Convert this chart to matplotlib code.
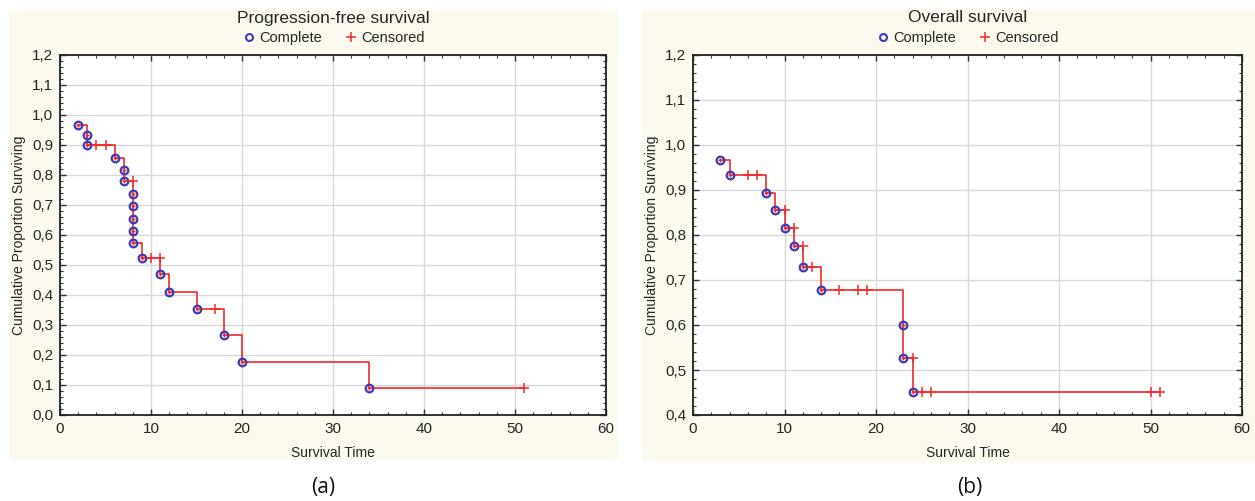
# Kaplan-Meier curves, progression-free and overall survival
import matplotlib
matplotlib.use("Agg")
import matplotlib.pyplot as plt
from matplotlib.patches import Rectangle
from matplotlib.lines import Line2D
from matplotlib.ticker import MultipleLocator, FuncFormatter

plt.rcParams['font.family'] = ['Liberation Sans Narrow', 'Liberation Sans', 'DejaVu Sans']

# ---- data ----
pfs_event_t = [2, 3, 3, 6, 7, 7, 8, 8, 8, 8, 8, 9, 11, 12, 15, 18, 20, 34]
pfs_event_s = [0.968, 0.934, 0.901, 0.858, 0.818, 0.779, 0.736, 0.696, 0.653,
               0.614, 0.574, 0.523, 0.471, 0.411, 0.352, 0.266, 0.177, 0.089]
pfs_cens_t = [4, 5, 8, 10, 11, 17, 51]
pfs_cens_s = [0.901, 0.901, 0.779, 0.523, 0.523, 0.352, 0.089]

os_event_t = [3, 4, 8, 9, 10, 11, 12, 14, 23, 23, 24]
os_event_s = [0.967, 0.933, 0.894, 0.855, 0.815, 0.776, 0.730, 0.677, 0.601, 0.527, 0.452]
os_cens_t = [6, 7, 10, 11, 12, 13, 16, 18, 19, 24, 25, 26, 50, 51]
os_cens_s = [0.933, 0.933, 0.855, 0.815, 0.776, 0.730, 0.677, 0.677, 0.677,
             0.527, 0.452, 0.452, 0.452, 0.452]

RED = '#f42a2a'
BLUE = '#3c3cb4'
CREAM = '#fcf9ef'
TXT = '#262626'

fig = plt.figure(figsize=(12.55, 5.01), dpi=100)
fig.patch.set_facecolor('white')

# cream panel backgrounds
fig.patches.append(Rectangle((9/1255, 1-460/501), 610/1255, 450/501,
                             transform=fig.transFigure, facecolor=CREAM, edgecolor='none', zorder=-10))
fig.patches.append(Rectangle((642/1255, 1-462/501), 613/1255, 452/501,
                             transform=fig.transFigure, facecolor=CREAM, edgecolor='none', zorder=-10))


def comma_fmt(v, pos):
    return f"{v:.1f}".replace('.', ',')


def km_panel(rect, ev_t, ev_s, ce_t, ce_s, ymin, title, caption, cap_x):
    ax = fig.add_axes(rect)
    ax.set_facecolor('white')
    # step curve from the events, carried to the last censored time
    st, ss = [], []
    for t, s in zip(ev_t, ev_s):
        if st and st[-1] == t:
            ss[-1] = s
        else:
            st.append(t)
            ss.append(s)
    st.append(max(ce_t))
    ss.append(ss[-1])
    ax.step(st, ss, where='post', color=RED, lw=1.2, zorder=3)
    ax.plot(ev_t, ev_s, linestyle='None', marker='o', ms=5.5, mfc='none',
            mec=BLUE, mew=1.6, zorder=4)
    ax.plot(ev_t, ev_s, linestyle='None', marker='+', ms=3.5, mec=RED, mew=1.0, zorder=5)
    ax.plot(ce_t, ce_s, linestyle='None', marker='+', ms=7, mec=RED, mew=1.1, zorder=5)

    ax.set_xlim(0, 60)
    ax.set_ylim(ymin, 1.2)
    ax.xaxis.set_major_locator(MultipleLocator(10))
    ax.xaxis.set_minor_locator(MultipleLocator(2))
    ax.yaxis.set_major_locator(MultipleLocator(0.1))
    ax.yaxis.set_minor_locator(MultipleLocator(0.02))
    ax.yaxis.set_major_formatter(FuncFormatter(comma_fmt))
    ax.grid(True, which='major', color='#d8d8d8', lw=1.0, zorder=1)
    ax.set_axisbelow(True)
    ax.tick_params(which='both', direction='in', top=True, right=True,
                   colors='#333333', labelcolor=TXT, labelsize=11)
    ax.tick_params(which='major', length=4, width=1.0, pad=5)
    ax.tick_params(which='minor', length=2.5, width=0.8)
    for sp in ax.spines.values():
        sp.set_color('#222222')
        sp.set_linewidth(1.3)
    ax.set_xlabel('Survival Time', fontsize=10, color=TXT, labelpad=7)
    ax.set_ylabel('Cumulative Proportion Surviving', fontsize=10, color=TXT)
    ax.yaxis.set_label_coords(-0.062, 0.5)

    cx = rect[0] + rect[2] / 2
    fig.text(cx, 1-18/501, title, ha='center', va='center', fontsize=12.5, color=TXT)
    handles = [Line2D([], [], linestyle='None', marker='o', ms=5, mfc='none', mec=BLUE, mew=1.5),
               Line2D([], [], linestyle='None', marker='+', ms=7, mec=RED, mew=1.1)]
    fig.legend(handles, ['Complete', 'Censored'], loc='center', ncol=2,
               bbox_to_anchor=(cx, 1-38/501), frameon=False, fontsize=10.5,
               handletextpad=0.2, columnspacing=1.5, handlelength=1.0,
               labelcolor=TXT)
    fig.text(cap_x, 1-487/501, caption, ha='center', va='center', fontsize=15,
             family=['Open Sans', 'DejaVu Sans'], color='#111111')
    return ax


km_panel([60/1255, 1-415/501, 546/1255, 360/501],
         pfs_event_t, pfs_event_s, pfs_cens_t, pfs_cens_s, 0.0,
         'Progression-free survival', '(a)', 323/1255)

km_panel([693/1255, 1-415/501, 549/1255, 360/501],
         os_event_t, os_event_s, os_cens_t, os_cens_s, 0.4,
         'Overall survival', '(b)', 970/1255)

fig.savefig('out.png', dpi=100)
